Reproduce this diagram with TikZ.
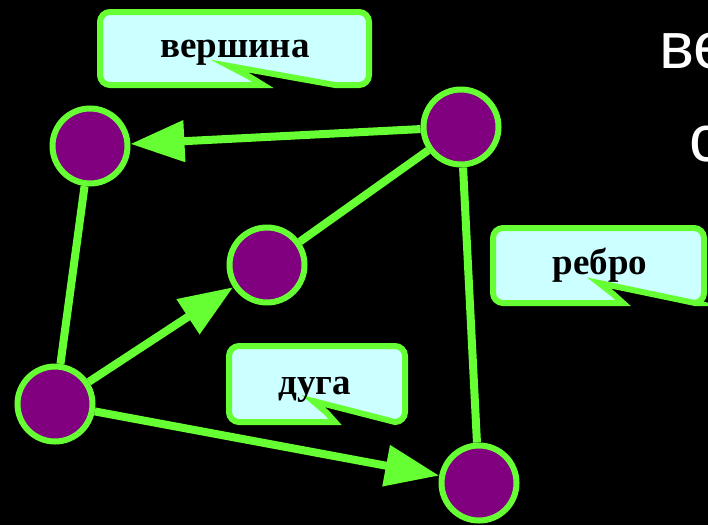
\documentclass[tikz,border=0pt]{standalone}
\usepackage{fontspec}
\setmainfont{Liberation Serif}
\newfontfamily\bigsans{Liberation Sans}
\usetikzlibrary{arrows.meta}
\definecolor{grn}{RGB}{102,255,51}
\definecolor{vert}{RGB}{128,0,128}
\definecolor{lcyan}{RGB}{204,255,255}
\tikzset{
  vtx/.style={circle,draw=grn,fill=vert,line width=6pt,minimum size=75pt,inner sep=0pt,outer sep=3pt},
  edge/.style={draw=grn,line width=8pt},
  arr/.style={edge,-{Triangle[length=54pt,width=40pt]}},
  callout/.style={draw=grn,fill=lcyan,line width=6pt,line join=miter},
  lbl/.style={font=\bfseries\fontsize{37}{42}\selectfont,text=black,inner sep=0pt},
  bigtxt/.style={font=\bigsans\fontsize{66}{70}\selectfont,text=white,inner sep=0pt}
}
\begin{document}
\begin{tikzpicture}[x=1pt,y=-1pt]
\useasboundingbox[fill=black] (0,0) rectangle (708,525);
% big partially visible text
\node[bigtxt,anchor=base west] (t1) at (659,68) {ве};
\node[bigtxt,anchor=base west] (t2) at (689,161) {с};
% vertices
\node[vtx] (A) at (90,146) {};
\node[vtx] (B) at (461,127) {};
\node[vtx] (C) at (267,265) {};
\node[vtx] (D) at (55,404) {};
\node[vtx] (E) at (479,483) {};
% connectors
\draw[arr] (B) -- (A);
\draw[edge] (A) -- (D);
\draw[arr] (D) -- (C);
\draw[edge] (C) -- (B);
\draw[edge] (B) -- (E);
\draw[arr] (D) -- (E);
% callouts
\draw[callout] (335,85) [sharp corners] -- (229,66) -- (250,77) -- (263,85)
  [rounded corners=10pt] -- (100,85) -- (100,12) -- (369,12) -- (369,85) [sharp corners] -- cycle;
\node[lbl,anchor=base] (l1) at (235,57) {вершина};
\draw[callout] (695,303) [sharp corners] -- (599,283) -- (613,294) -- (623,303)
  [rounded corners=10pt] -- (493,303) -- (493,228) -- (704,228) -- (704,303) [sharp corners] -- cycle;
\node[lbl,anchor=base] (l2) at (600,274) {ребро};
\draw[callout] (395,422) [sharp corners] -- (313,401) -- (327,413) -- (335,422)
  [rounded corners=10pt] -- (229,422) -- (229,346) -- (405,346) -- (405,422) [sharp corners] -- cycle;
\node[lbl,anchor=base] (l3) at (315,394) {дуга};
\end{tikzpicture}
\end{document}
